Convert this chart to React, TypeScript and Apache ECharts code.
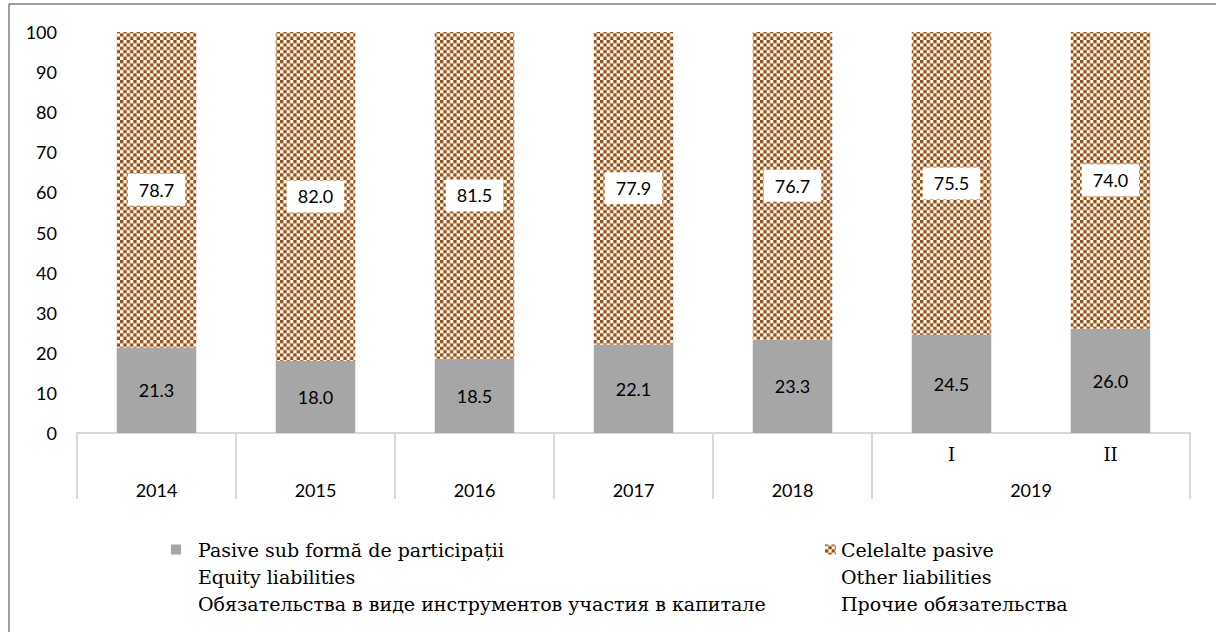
import React, { useEffect, useRef } from "react";
import * as echarts from "echarts";

const categories = ["2014", "2015", "2016", "2017", "2018", "I", "II"];
const quarterLabels = ["", "", "", "", "", "I", "II"];
const yearTicks = ["", "2014", "", "2015", "", "2016", "", "2017", "", "2018", "", "", "2019", "", ""];
const yearBoundaryIdx = [0, 2, 4, 6, 8, 10, 14];
const equityValues = [21.3, 18.0, 18.5, 22.1, 23.3, 24.5, 26.0];
const otherValues = [78.7, 82.0, 81.5, 77.9, 76.7, 75.5, 74.0];
const equityName = "Pasive sub formă de participații\nEquity liabilities\nОбязательства в виде инструментов участия в капитале";
const otherName = "Celelalte pasive\nOther liabilities\nПрочие обязательства";

const BROWN = "#9E4A06";
const GRAY = "#A6A6A6";
const NUM_FONT = "Lato";
const SERIF = "DejaVu Serif";

function makeChecker(): HTMLCanvasElement {
  const c = document.createElement("canvas");
  c.width = 20;
  c.height = 20;
  const ctx = c.getContext("2d")!;
  ctx.fillStyle = "#ffffff";
  ctx.fillRect(0, 0, 20, 20);
  ctx.fillStyle = BROWN;
  ctx.fillRect(0, 0, 10, 10);
  ctx.fillRect(10, 10, 10, 10);
  return c;
}

// icon: small square near the top of a tall (3-line) legend item box
function iconPath(boxW: number, sq: number): string {
  const y0 = 8.5;
  return (
    `path://M0,0L${boxW},0Z` +
    `M0,${y0}L${sq},${y0}L${sq},${y0 + 10}L0,${y0 + 10}Z` +
    `M0,81L${boxW},81Z`
  );
}

export default function App() {
  const ref = useRef<HTMLDivElement>(null);
  useEffect(() => {
    if (!ref.current) return;
    const chart = echarts.init(ref.current, undefined, { renderer: "svg" });
    const pattern: any = { image: makeChecker(), repeat: "repeat", scaleX: 1 / 3, scaleY: 1 / 3 };
    const legendText = {
      fontFamily: SERIF,
      fontSize: 19,
      color: "#000",
      lineHeight: 27,
    };
    chart.setOption({
      animation: false,
      backgroundColor: "#fff",
      graphic: [
        {
          type: "rect",
          shape: { x: 1200, y: 8, width: 16, height: 624 },
          style: { fill: "#fff" },
          silent: true,
          z: 100,
        },
        {
          type: "line",
          shape: { x1: 9, y1: 4, x2: 1216, y2: 4 },
          style: { stroke: "#7f7f7f", lineWidth: 1.5 },
          silent: true,
        },
        {
          type: "line",
          shape: { x1: 9, y1: 4, x2: 9, y2: 632 },
          style: { stroke: "#7f7f7f", lineWidth: 1.5 },
          silent: true,
        },
      ],
      grid: { left: 77, right: 26, top: 32, bottom: 199, containLabel: false },
      legend: [
        {
          data: [equityName],
          left: 166,
          top: 531,
          itemWidth: 22,
          itemHeight: 81,
          icon: iconPath(22, 10),
          textStyle: legendText,
          selectedMode: false,
        },
        {
          data: [otherName],
          left: 820,
          top: 531,
          itemWidth: 11,
          itemHeight: 81,
          icon: iconPath(11, 11),
          textStyle: legendText,
          selectedMode: false,
        },
      ],
      xAxis: [
        {
          type: "category",
          data: categories,
          axisLine: { show: false },
          axisTick: { show: false },
          axisLabel: {
            interval: 0,
            margin: 12,
            fontFamily: SERIF,
            fontSize: 18,
            color: "#000",
            formatter: (_v: string, i: number) => quarterLabels[i],
          },
        },
        {
          type: "category",
          data: yearTicks,
          boundaryGap: false,
          position: "bottom",
          offset: 0,
          axisLine: { show: true, lineStyle: { color: "#d9d9d9", width: 2 } },
          axisTick: {
            show: true,
            length: 66,
            interval: (i: number) => yearBoundaryIdx.indexOf(i) >= 0,
            lineStyle: { color: "#d9d9d9", width: 2 },
          },
          axisLabel: {
            interval: 0,
            margin: 48,
            fontFamily: NUM_FONT,
            fontSize: 18,
            color: "#000",
          },
        },
      ],
      yAxis: {
        type: "value",
        min: 0,
        max: 100,
        interval: 10,
        axisLine: { show: false },
        axisTick: { show: false },
        splitLine: { show: false },
        axisLabel: { margin: 20, fontFamily: NUM_FONT, fontSize: 18, color: "#000" },
      },
      series: [
        {
          name: equityName,
          type: "bar",
          stack: "total",
          xAxisIndex: 0,
          barWidth: "50%",
          data: equityValues,
          itemStyle: { color: GRAY },
          label: {
            show: true,
            position: "inside",
            fontFamily: NUM_FONT,
            fontSize: 18,
            color: "#000",
            formatter: (p: any) => Number(p.value).toFixed(1),
          },
        },
        {
          name: otherName,
          type: "bar",
          stack: "total",
          xAxisIndex: 0,
          barWidth: "50%",
          data: otherValues,
          itemStyle: { color: pattern },
          label: {
            show: true,
            position: "inside",
            fontFamily: NUM_FONT,
            fontSize: 18,
            color: "#000",
            backgroundColor: "#fff",
            padding: [7, 11],
            formatter: (p: any) => Number(p.value).toFixed(1),
          },
        },
      ],
    });
    return () => chart.dispose();
  }, []);
  return (
    <div
      ref={ref}
      style={{ position: "fixed", left: 0, top: 0, width: 1216, height: 632, background: "#fff" }}
    />
  );
}
